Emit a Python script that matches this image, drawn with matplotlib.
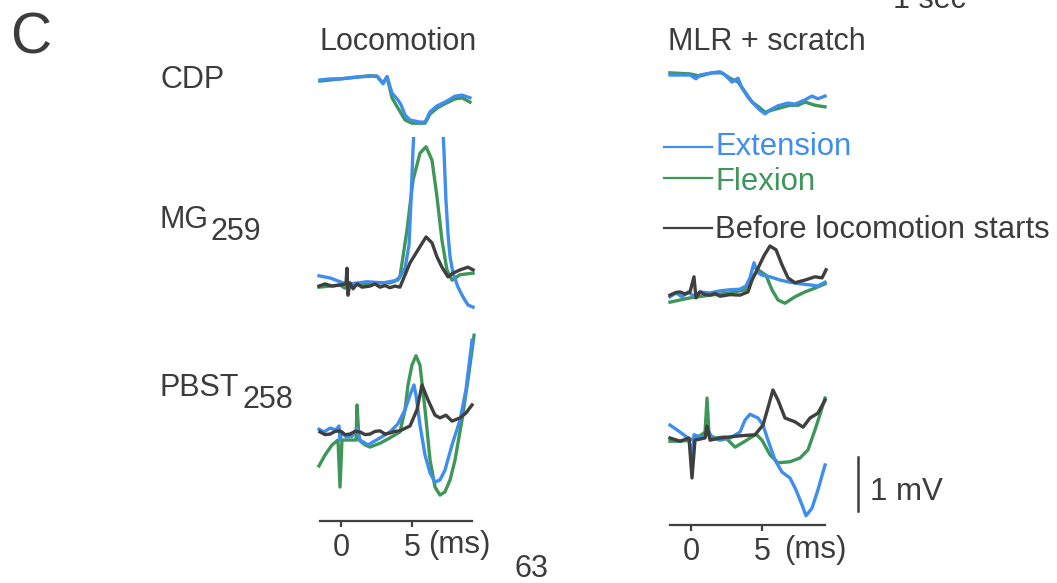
import matplotlib
matplotlib.use("Agg")
import matplotlib.pyplot as plt
from matplotlib.lines import Line2D

plt.rcParams['font.family'] = ['Liberation Sans', 'DejaVu Sans']

W, H = 1057, 583
PX_PER_MS = 14.2
PX_PER_MV = 54.0

BLUE = '#3f8ded'
GREEN = '#3e9659'
DARK = '#3f3f3f'
TXT = '#3c3c3c'
FS = 22

# ---- Locomotion column (time in ms, amplitude in mV) ----
loco_cdp_ext_t = [-1.48, -0.77, -0.07, 0.63, 1.34, 2.04, 2.54, 2.96, 3.24, 3.59, 4.01, 4.23, 4.51,
                  4.86, 5.56, 5.92, 6.27, 6.76, 7.32, 8.03, 8.52, 9.08]
loco_cdp_ext_v = [0.0, 0.02, 0.02, 0.04, 0.06, 0.07, 0.07, -0.07, 0.06, -0.24, -0.37, -0.46, -0.65,
                  -0.74, -0.78, -0.78, -0.59, -0.48, -0.41, -0.30, -0.28, -0.33]
loco_cdp_flx_t = [-1.48, -0.77, -0.07, 0.63, 1.34, 2.04, 2.54, 2.96, 3.24, 3.59, 4.01, 4.51, 5.0,
                  5.92, 6.27, 6.76, 7.32, 8.03, 8.52, 9.08]
loco_cdp_flx_v = [-0.02, 0.0, 0.02, 0.04, 0.06, 0.08, 0.07, -0.06, 0.06, -0.33, -0.52, -0.74, -0.80,
                  -0.80, -0.63, -0.52, -0.44, -0.35, -0.33, -0.41]

loco_mg_ext_t = [-1.55, -0.77, 0.14, 0.63, 1.83, 2.96, 4.01, 4.51, 4.79, 4.93, 5.07, 5.21, 6.13,
                 7.11, 7.25, 7.39, 7.54, 7.68, 7.89, 8.24, 8.59, 8.94, 9.30]
loco_mg_ext_v = [0.17, 0.13, 0.04, 0.02, 0.06, 0.04, 0.09, 0.31, 0.74, 1.57, 2.50, 3.24, 4.17,
                 3.24, 2.50, 1.57, 0.93, 0.52, 0.22, -0.04, -0.22, -0.37, -0.41]
loco_mg_flx_t = [-1.55, -0.77, -0.07, 0.28, 0.63, 1.34, 2.04, 2.75, 3.45, 3.80, 4.15, 4.65, 5.07,
                 5.56, 5.99, 6.41, 6.76, 7.11, 7.46, 7.82, 8.38, 9.30]
loco_mg_flx_v = [-0.04, -0.02, 0.0, -0.06, 0.02, 0.0, 0.02, 0.04, 0.04, 0.07, 0.15, 1.02, 1.94,
                 2.44, 2.56, 2.31, 1.63, 0.83, 0.28, 0.09, 0.19, 0.22]
loco_mg_pre_t = [-1.55, -1.13, -0.63, -0.07, 0.35, 0.42, 0.49, 0.63, 0.85, 1.13, 1.48, 2.04, 2.40,
                 2.75, 3.10, 3.45, 3.80, 4.15, 4.86, 5.42, 5.99, 6.41, 6.76, 7.11, 7.54, 7.89,
                 8.38, 8.94, 9.30]
loco_mg_pre_v = [-0.02, 0.02, -0.02, 0.0, 0.02, 0.31, -0.19, 0.04, -0.07, 0.02, -0.04, -0.02, 0.02,
                 -0.04, -0.01, -0.05, -0.02, -0.04, 0.41, 0.65, 0.89, 0.78, 0.52, 0.33, 0.15, 0.22,
                 0.28, 0.33, 0.28]

loco_pb_ext_t = [-1.55, -1.20, -0.77, -0.35, -0.14, -0.07, 0.07, 0.35, 0.77, 1.13, 1.34, 1.90, 2.75,
                 3.45, 4.01, 4.51, 4.86, 5.14, 5.28, 5.56, 5.92, 6.27, 6.62, 6.97, 7.32, 7.82,
                 8.38, 8.80, 9.23]
loco_pb_ext_v = [0.07, 0.02, 0.09, 0.06, 0.13, -0.13, 0.02, -0.07, -0.06, 0.09, -0.13, -0.22, -0.09,
                 0.02, 0.17, 0.43, 0.70, 0.89, 0.70, 0.15, -0.41, -0.74, -0.91, -0.87, -0.69, -0.22,
                 0.24, 0.80, 1.72]
loco_pb_flx_t = [-1.55, -1.13, -0.63, -0.21, -0.07, 0.07, 0.63, 1.06, 1.13, 1.27, 1.69, 2.04, 2.75,
                 3.45, 4.15, 4.51, 4.72, 5.0, 5.28, 5.56, 5.92, 6.27, 6.62, 6.97, 7.32, 7.68, 8.03,
                 8.52, 8.94, 9.37]
loco_pb_flx_v = [-0.61, -0.41, -0.22, -0.13, -1.00, -0.13, -0.13, -0.13, 0.52, -0.13, -0.22, -0.26,
                 -0.19, -0.09, 0.02, 0.43, 0.89, 1.26, 1.43, 1.26, 0.43, -0.50, -1.00, -1.15, -1.09,
                 -0.87, -0.50, 0.24, 0.98, 1.81]
loco_pb_pre_t = [-1.48, -1.13, -0.77, -0.42, -0.07, 0.28, 0.63, 0.99, 1.34, 1.69, 2.04, 2.40, 2.75,
                 3.10, 3.45, 3.80, 4.15, 4.86, 5.35, 5.70, 6.13, 6.62, 6.97, 7.39, 7.82, 8.38,
                 8.80, 9.23]
loco_pb_pre_v = [0.02, -0.03, -0.02, 0.03, 0.04, -0.03, -0.02, 0.03, 0.02, -0.03, -0.02, 0.03, 0.04,
                 -0.02, 0.0, 0.03, 0.04, 0.13, 0.43, 0.89, 0.61, 0.33, 0.28, 0.33, 0.22, 0.28,
                 0.37, 0.52]

# ---- MLR + scratch column ----
scr_cdp_ext_t = [-1.48, -0.77, -0.07, 0.35, 0.63, 1.48, 2.04, 2.39, 2.89, 3.31, 3.59, 4.01, 4.51,
                 4.86, 5.21, 5.56, 6.13, 6.83, 7.32, 8.03, 8.52, 8.94, 9.44]
scr_cdp_ext_v = [0.0, 0.0, 0.0, -0.07, 0.0, 0.04, 0.06, 0.0, -0.13, -0.06, -0.24, -0.41, -0.56,
                 -0.65, -0.72, -0.65, -0.57, -0.52, -0.54, -0.46, -0.39, -0.44, -0.39]
scr_cdp_flx_t = [-1.48, -0.07, 0.63, 1.48, 2.18, 2.75, 3.31, 3.80, 4.30, 4.86, 5.21, 5.70, 6.27,
                 6.97, 7.54, 8.03, 8.73, 9.44]
scr_cdp_flx_v = [0.04, 0.02, -0.02, 0.04, 0.04, -0.06, -0.13, -0.31, -0.50, -0.61, -0.69, -0.65,
                 -0.61, -0.56, -0.56, -0.50, -0.56, -0.59]

scr_mg_ext_t = [-1.48, -1.06, -0.63, -0.21, 0.21, 0.63, 1.34, 2.04, 2.75, 3.45, 3.87, 4.15, 4.44,
                4.65, 5.0, 5.56, 6.27, 6.97, 7.68, 8.38, 8.94, 9.44]
scr_mg_ext_v = [-0.07, 0.0, -0.07, 0.02, -0.06, 0.02, 0.0, 0.04, 0.06, 0.07, 0.13, 0.28, 0.56,
                0.39, 0.33, 0.30, 0.24, 0.20, 0.17, 0.15, 0.13, 0.20]
scr_mg_flx_t = [-1.48, -0.07, 1.34, 2.75, 3.80, 4.30, 4.72, 5.28, 5.70, 6.13, 6.62, 7.32, 8.03,
                8.73, 9.44]
scr_mg_flx_v = [-0.17, -0.09, -0.04, 0.0, 0.06, 0.28, 0.43, 0.33, 0.06, -0.13, -0.19, -0.07, 0.02,
                0.09, 0.17]
scr_mg_pre_t = [-1.48, -1.06, -0.77, -0.42, -0.07, 0.21, 0.35, 0.63, 0.99, 1.34, 1.69, 2.04, 2.75,
                3.45, 4.01, 4.30, 4.72, 5.14, 5.56, 5.99, 6.41, 6.83, 7.32, 8.03, 8.73, 9.23, 9.51]
scr_mg_pre_v = [-0.04, 0.01, 0.02, -0.02, 0.02, 0.30, -0.09, 0.02, -0.03, -0.04, -0.01, -0.06, -0.03,
                -0.04, 0.02, 0.24, 0.46, 0.69, 0.87, 0.80, 0.52, 0.28, 0.19, 0.24, 0.30, 0.28, 0.43]

scr_pb_ext_t = [-1.48, -0.77, -0.21, -0.07, 0.07, 0.21, 0.63, 0.99, 1.20, 1.48, 2.04, 2.75, 3.45,
                3.80, 4.15, 4.72, 5.07, 5.42, 5.92, 6.41, 6.97, 7.39, 7.82, 8.10, 8.52, 8.94,
                9.23, 9.44]
scr_pb_ext_v = [0.24, 0.11, 0.0, -0.13, -0.41, 0.06, 0.02, 0.02, 0.15, 0.0, -0.04, 0.0, 0.11,
                0.33, 0.44, 0.37, 0.24, -0.04, -0.41, -0.63, -0.74, -0.96, -1.24, -1.44, -1.30,
                -0.96, -0.69, -0.50]
scr_pb_flx_t = [-1.48, -0.77, -0.07, 0.63, 0.99, 1.13, 1.27, 1.69, 2.39, 3.10, 3.80, 4.58, 5.0,
                5.56, 6.13, 6.97, 7.68, 8.24, 8.73, 9.08, 9.44]
scr_pb_flx_v = [-0.06, -0.06, -0.04, 0.04, 0.11, 0.74, 0.06, 0.0, 0.02, -0.17, -0.06, 0.07, -0.04,
                -0.31, -0.46, -0.44, -0.37, -0.22, 0.15, 0.43, 0.74]
scr_pb_pre_t = [-1.48, -0.77, -0.14, 0.07, 0.28, 0.99, 1.13, 1.34, 2.04, 2.75, 3.45, 4.51, 5.07,
                5.42, 5.77, 6.13, 6.62, 7.32, 7.89, 8.38, 8.94, 9.44]
scr_pb_pre_v = [0.0, -0.06, 0.0, -0.74, -0.04, 0.0, 0.22, -0.04, 0.0, 0.02, 0.04, 0.06, 0.24,
                0.56, 0.89, 0.70, 0.37, 0.30, 0.20, 0.37, 0.46, 0.70]

tick_values = [0, 5]
tick_labels = ['0', '5']
legend_labels = ['Extension', 'Flexion', 'Before locomotion starts']
row_labels = [('CDP', ''), ('MG', '259'), ('PBST', '258')]


def fx(px):
    return px / W


def fy(py):
    return 1 - py / H


def panel(fig, x0, x1, y0, y1, zero_px, base_px):
    # axes placed in pixel box; data scale fixed by px/ms and px/mV
    ax = fig.add_axes([fx(x0), fy(y1), (x1 - x0) / W, (y1 - y0) / H])
    ax.set_xlim((x0 - zero_px) / PX_PER_MS, (x1 - zero_px) / PX_PER_MS)
    ax.set_ylim((base_px - y1) / PX_PER_MV, (base_px - y0) / PX_PER_MV)
    for s in ax.spines.values():
        s.set_visible(False)
    ax.set_xticks([])
    ax.set_yticks([])
    ax.patch.set_alpha(0)
    return ax


def traces(ax, ext, flx, pre=None):
    ax.plot(flx[0], flx[1], color=GREEN, lw=2.4, solid_joinstyle='round')
    ax.plot(ext[0], ext[1], color=BLUE, lw=2.4, solid_joinstyle='round')
    if pre is not None:
        ax.plot(pre[0], pre[1], color=DARK, lw=2.4, solid_joinstyle='round')


def time_axis(ax, lo, hi):
    sp = ax.spines['bottom']
    sp.set_visible(True)
    sp.set_bounds(lo, hi)
    sp.set_color(DARK)
    sp.set_linewidth(1.6)
    ax.set_xticks(tick_values)
    ax.set_xticklabels(tick_labels)
    ax.tick_params(axis='x', direction='out', length=4, width=1.6, color=DARK,
                   labelsize=FS, labelcolor=TXT, pad=5)


fig = plt.figure(figsize=(W / 100, H / 100), dpi=100)
fig.patch.set_facecolor('white')

# Locomotion column
ax = panel(fig, 316, 478, 60, 130, 341, 80)
traces(ax, (loco_cdp_ext_t, loco_cdp_ext_v), (loco_cdp_flx_t, loco_cdp_flx_v))
ax = panel(fig, 316, 478, 137, 315, 341, 285)
traces(ax, (loco_mg_ext_t, loco_mg_ext_v), (loco_mg_flx_t, loco_mg_flx_v),
       (loco_mg_pre_t, loco_mg_pre_v))
ax = panel(fig, 316, 478, 325, 521, 341, 433)
traces(ax, (loco_pb_ext_t, loco_pb_ext_v), (loco_pb_flx_t, loco_pb_flx_v),
       (loco_pb_pre_t, loco_pb_pre_v))
time_axis(ax, -1.48, 9.23)

# MLR + scratch column
ax = panel(fig, 666, 830, 60, 125, 691, 75)
traces(ax, (scr_cdp_ext_t, scr_cdp_ext_v), (scr_cdp_flx_t, scr_cdp_flx_v))
ax = panel(fig, 666, 830, 235, 312, 691, 293)
traces(ax, (scr_mg_ext_t, scr_mg_ext_v), (scr_mg_flx_t, scr_mg_flx_v),
       (scr_mg_pre_t, scr_mg_pre_v))
ax = panel(fig, 666, 830, 380, 525, 691, 438)
traces(ax, (scr_pb_ext_t, scr_pb_ext_v), (scr_pb_flx_t, scr_pb_flx_v),
       (scr_pb_pre_t, scr_pb_pre_v))
time_axis(ax, -1.48, 9.44)

# 1 mV scale bar
ax.plot([11.76, 11.76], [-1.35, -0.35], color=DARK, lw=1.8, clip_on=False)
ax.text(12.6, -1.14, '1 mV', fontsize=22.5, color=TXT, ha='left', va='baseline', clip_on=False)

# "(ms)" unit labels
fig.text(fx(428), fy(553), '(ms)', fontsize=22.5, color=TXT, ha='left', va='baseline')
fig.text(fx(784), fy(558), '(ms)', fontsize=22.5, color=TXT, ha='left', va='baseline')

# titles and labels
fig.text(fx(10), fy(53), 'C', fontsize=41, color=TXT, ha='left', va='baseline')
fig.text(fx(320), fy(50), 'Locomotion', fontsize=FS, color=TXT, ha='left', va='baseline')
fig.text(fx(668), fy(50), 'MLR + scratch', fontsize=FS, color=TXT, ha='left', va='baseline')
fig.text(fx(893), fy(8), '1 sec', fontsize=FS, color=TXT, ha='left', va='baseline')
fig.text(fx(515), fy(577), '63', fontsize=FS, color=TXT, ha='left', va='baseline')

row_base = [88, 228, 396]
sub_x = [0, 211, 242]
for (main, sub), yb, sx in zip(row_labels, row_base, sub_x):
    fig.text(fx(160), fy(yb), main, fontsize=FS, color=TXT, ha='left', va='baseline')
    if sub:
        fig.text(fx(sx), fy(yb + 12), sub, fontsize=FS, color=TXT, ha='left', va='baseline')

# legend
leg_y = [147, 178, 228]
leg_base = [155, 190, 238]
leg_col = [BLUE, GREEN, DARK]
for lab, ly, lb, c in zip(legend_labels, leg_y, leg_base, leg_col):
    fig.add_artist(Line2D([fx(664), fx(712)], [fy(ly), fy(ly)], color=c, lw=1.6))
    fig.text(fx(715), fy(lb), lab, fontsize=22.3, color=c if c != DARK else TXT,
             ha='left', va='baseline')

fig.savefig('out.png', dpi=100)
